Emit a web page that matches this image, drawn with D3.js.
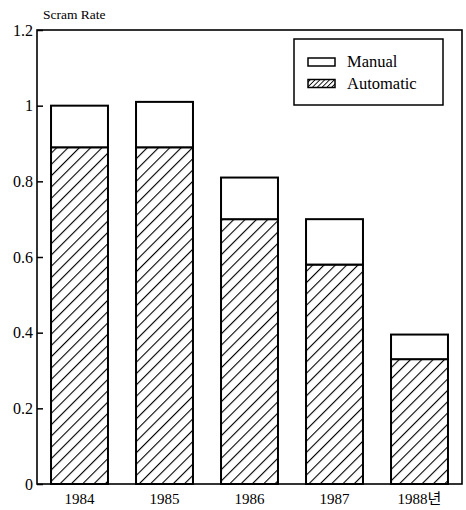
<!DOCTYPE html>
<html><head><meta charset="utf-8">
<script src="https://cdn.jsdelivr.net/npm/d3@7"></script>
<style>body{margin:0;background:#fff}svg{display:block}</style>
</head><body>
<script>
const years = ["1984", "1985", "1986", "1987", "1988년"];
const totalRate = [1.0, 1.01, 0.81, 0.70, 0.395];
const automatic = [0.89, 0.89, 0.70, 0.58, 0.33];
const manual = totalRate.map((t, i) => +(t - automatic[i]).toFixed(3));
const yTicks = [0, 0.2, 0.4, 0.6, 0.8, 1, 1.2];
const seriesNames = ["Manual", "Automatic"];
const yTitle = "Scram Rate";

const W = 466, H = 510;
const m = {left: 37, right: 4, top: 30, bottom: 26};
const serif = "'Liberation Serif','Times New Roman',serif";

const svg = d3.select("body").append("svg").attr("width", W).attr("height", H);
const defs = svg.append("defs");
function hatch(id, step, sw) {
  const p = defs.append("pattern").attr("id", id).attr("patternUnits", "userSpaceOnUse")
    .attr("width", step).attr("height", step).attr("patternTransform", "rotate(45)");
  p.append("rect").attr("width", step).attr("height", step).attr("fill", "#fff");
  p.append("line").attr("x1", 0).attr("y1", 0).attr("x2", 0).attr("y2", step)
    .attr("stroke", "#000").attr("stroke-width", sw);
}
hatch("hatch", 8, 2.2);
hatch("hatchSmall", 3.4, 1.8);

const x = d3.scaleBand().domain(years).range([m.left, W - m.right]).paddingInner(0.33).paddingOuter(0.165);
const y = d3.scaleLinear().domain([0, 1.2]).range([H - m.bottom, m.top]);

const g = svg.append("g");
years.forEach((yr, i) => {
  g.append("rect").attr("x", x(yr)).attr("width", x.bandwidth())
    .attr("y", y(automatic[i])).attr("height", y(0) - y(automatic[i]))
    .attr("fill", "url(#hatch)").attr("stroke", "#000").attr("stroke-width", 2);
  g.append("rect").attr("x", x(yr)).attr("width", x.bandwidth())
    .attr("y", y(automatic[i] + manual[i])).attr("height", y(automatic[i]) - y(automatic[i] + manual[i]))
    .attr("fill", "#fff").attr("stroke", "#000").attr("stroke-width", 2);
});

svg.append("rect").attr("x", m.left).attr("y", m.top)
  .attr("width", W - m.right - m.left).attr("height", y(0) - m.top)
  .attr("fill", "none").attr("stroke", "#000").attr("stroke-width", 1.6);

const yAxis = svg.append("g").attr("transform", `translate(${m.left},0)`)
  .call(d3.axisLeft(y).tickValues(yTicks).tickSize(-6).tickPadding(5)
    .tickFormat(d => d3.format("")(+d.toFixed(1))));
yAxis.select(".domain").remove();
yAxis.selectAll("line").attr("stroke", "#000").attr("stroke-width", 1.5);
yAxis.selectAll("text").attr("font-family", serif).attr("font-size", 16).attr("fill", "#000")
  .attr("x", -4);

const xAxis = svg.append("g").attr("transform", `translate(0,${y(0)})`)
  .call(d3.axisBottom(x).tickSize(0).tickPadding(9));
xAxis.select(".domain").remove();
xAxis.selectAll("text").attr("font-family", serif + ",'Noto Sans CJK KR'").attr("font-size", 15).attr("fill", "#000");

svg.append("text").attr("x", 43).attr("y", 19).attr("font-family", serif)
  .attr("font-size", 13.5).text(yTitle);

const lg = svg.append("g");
lg.append("rect").attr("x", 294).attr("y", 39).attr("width", 149).attr("height", 66)
  .attr("fill", "#fff").attr("stroke", "#000").attr("stroke-width", 1.5);
const fills = ["#fff", "url(#hatchSmall)"];
seriesNames.forEach((s, i) => {
  const yy = 58 + i * 21.5;
  lg.append("rect").attr("x", 308).attr("y", yy).attr("width", 27).attr("height", 8)
    .attr("fill", fills[i]).attr("stroke", "#000").attr("stroke-width", 1.5);
  lg.append("text").attr("x", 347).attr("y", yy + 9).attr("font-family", serif)
    .attr("font-size", 16.5).text(s);
});
</script>
</body></html>
